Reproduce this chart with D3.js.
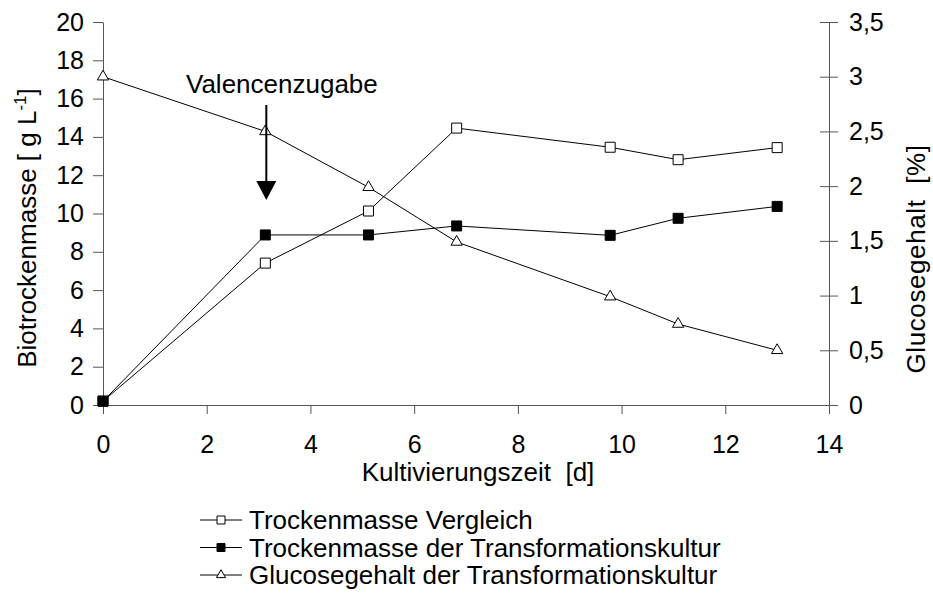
<!DOCTYPE html>
<html>
<head>
<meta charset="utf-8">
<script src="https://d3js.org/d3.v7.min.js"></script>
<style>
  body { margin: 0; background: #fff; }
  text { font-family: "Liberation Sans", Arial, sans-serif; fill: #000; }
</style>
</head>
<body>
<div id="chart"></div>
<script>
// Data
var days = [0, 3.13, 5.12, 6.82, 9.78, 11.09, 13.0];
var massVergleich = [0.2, 7.41, 10.13, 14.46, 13.46, 12.81, 13.44];
var massTransform = [0.2, 8.88, 8.88, 9.35, 8.86, 9.75, 10.37];
var glucose = [3.0, 2.5, 1.99, 1.49, 0.99, 0.74, 0.5];

var xTicks = [0, 2, 4, 6, 8, 10, 12, 14];
var yLeftTicks = [0, 2, 4, 6, 8, 10, 12, 14, 16, 18, 20];
var yRightTicks = [0, 0.5, 1, 1.5, 2, 2.5, 3, 3.5];

var legendLabels = ["Trockenmasse Vergleich", "Trockenmasse der Transformationskultur", "Glucosegehalt der Transformationskultur"];
var annotation = {day: 3.13, text: "Valencenzugabe"};

var width = 933, height = 595;
var margin = {top: 22, right: 104, bottom: 190, left: 103};
var w = width - margin.left - margin.right,
    h = height - margin.top - margin.bottom;
var fs = "25px", fsTitle = "26px";

var svg = d3.select("#chart").append("svg")
    .attr("width", width)
    .attr("height", height);

var main = svg.append("g")
    .attr("transform", "translate(" + margin.left + "," + margin.top + ")");

var x = d3.scaleLinear().domain([0, 14]).range([0, w]);
var yL = d3.scaleLinear().domain([0, 20]).range([h, 0]);
var yR = d3.scaleLinear().domain([0, 3.5]).range([h, 0]);

var fmt = function (d) { return String(d).replace(".", ","); };

// axes
var axisColor = "#555";

var gx = main.append("g")
    .attr("transform", "translate(0," + h + ")")
    .call(d3.axisBottom(x).tickValues(xTicks).tickSize(9).tickPadding(21).tickSizeOuter(0));

var gl = main.append("g")
    .call(d3.axisLeft(yL).tickValues(yLeftTicks).tickSize(10).tickPadding(9).tickSizeOuter(0));

var gr = main.append("g")
    .attr("transform", "translate(" + w + ",0)")
    .call(d3.axisRight(yR).tickValues(yRightTicks).tickFormat(fmt).tickSize(9).tickPadding(11).tickSizeOuter(0));

// right axis ticks cross the line
gr.selectAll(".tick line").attr("x1", -9);

[gx, gl, gr].forEach(function (g) {
    g.select(".domain").attr("stroke", axisColor);
    g.selectAll(".tick line").attr("stroke", axisColor);
    g.selectAll(".tick text")
        .style("font-size", fs)
        .style("font-family", "Liberation Sans, Arial, sans-serif")
        .attr("fill", "#000");
});

// axis titles
main.append("text")
    .attr("x", 375)
    .attr("y", h + 76)
    .attr("text-anchor", "middle")
    .style("white-space", "pre")
    .style("font-size", fsTitle)
    .text("Kultivierungszeit  [d]");

var yl = svg.append("text")
    .attr("transform", "translate(36,228) rotate(-90)")
    .attr("text-anchor", "middle")
    .style("font-size", fsTitle);
yl.append("tspan").text("Biotrockenmasse [ g L");
yl.append("tspan").attr("dy", -10).style("font-size", "17px").text("-1");
yl.append("tspan").attr("dy", 10).text("]");

svg.append("text")
    .attr("transform", "translate(925,259) rotate(-90)")
    .attr("text-anchor", "middle")
    .style("white-space", "pre")
    .style("letter-spacing", "0.6px")
    .style("font-size", fsTitle)
    .text("Glucosegehalt  [%]");

// series
var series = [
    {values: massVergleich, y: yL, marker: "square", fill: "#fff"},
    {values: massTransform, y: yL, marker: "square", fill: "#000"},
    {values: glucose, y: yR, marker: "triangle", fill: "#fff"}
];

function markerPath(type, s) {
    return d3.symbol().type(type === "square" ? d3.symbolSquare : d3.symbolTriangle).size(s)();
}

series.forEach(function (s) {
    var pts = days.map(function (d, i) { return [d, s.values[i]]; });
    var line = d3.line()
        .x(function (d) { return x(d[0]); })
        .y(function (d) { return s.y(d[1]); });

    main.append("path")
        .datum(pts)
        .attr("fill", "none")
        .attr("stroke", "#000")
        .attr("stroke-width", 1)
        .attr("d", line);

    main.selectAll(null)
        .data(pts)
        .enter().append("path")
        .attr("d", markerPath(s.marker, s.marker === "square" ? 100 : 55))
        .attr("fill", s.fill)
        .attr("stroke", "#000")
        .attr("transform", function (p) {
            return "translate(" + x(p[0]) + "," + s.y(p[1]) + ")";
        });
});

// annotation arrow
var ax = margin.left + x(annotation.day) + 1;
svg.append("text")
    .attr("x", 186)
    .attr("y", 93)
    .style("font-size", fsTitle)
    .text(annotation.text);

svg.append("line")
    .attr("x1", ax).attr("x2", ax)
    .attr("y1", 105).attr("y2", 184)
    .attr("stroke", "#000")
    .attr("stroke-width", 2);

svg.append("path")
    .attr("d", "M" + (ax - 10) + ",181 L" + (ax + 10) + ",181 L" + ax + ",200 Z")
    .attr("fill", "#000");

// legend
var legend = svg.append("g")
    .attr("transform", "translate(200,520)");

series.forEach(function (s, i) {
    var row = legend.append("g").attr("transform", "translate(0," + (i * 27.5) + ")");
    row.append("line")
        .attr("x1", 0).attr("x2", 42)
        .attr("stroke", "#000").attr("stroke-width", 1);
    row.append("path")
        .attr("d", markerPath(s.marker, s.marker === "square" ? 64 : 36))
        .attr("fill", s.fill)
        .attr("stroke", "#000")
        .attr("transform", "translate(21,0)");
    row.append("text")
        .attr("x", 49)
        .attr("y", 9)
        .style("font-size", fsTitle)
        .text(legendLabels[i]);
});
</script>
</body>
</html>
